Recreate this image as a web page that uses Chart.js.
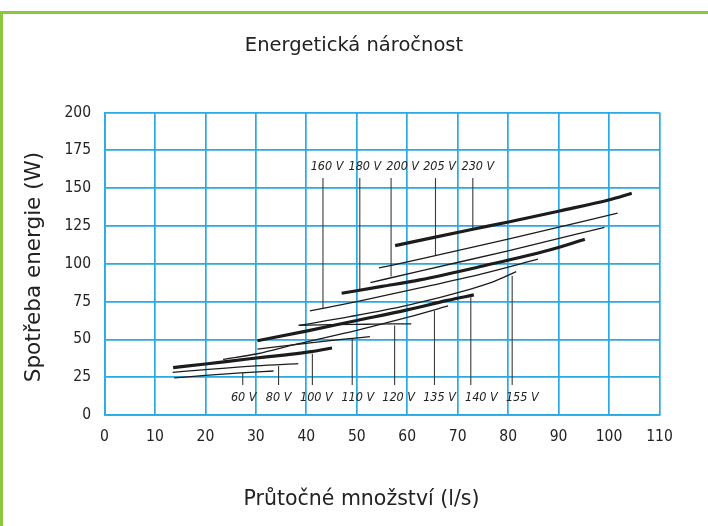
<!DOCTYPE html>
<html><head><meta charset="utf-8">
<script src="https://cdn.jsdelivr.net/npm/chart.js@4.4.1/dist/chart.umd.min.js"></script>
<style>
html,body{margin:0;padding:0;background:#fff;}
#wrap{position:relative;width:708px;height:526px;overflow:hidden;}
#frame{position:absolute;left:0;top:11px;width:720px;height:530px;border-left:3px solid #8dc63f;border-top:3px solid #8dc63f;box-sizing:border-box;pointer-events:none;}
canvas{position:absolute;left:0;top:0;}
</style></head>
<body><div id="wrap"><canvas id="c" width="708" height="526"></canvas><div id="frame"></div></div>
<script>
// Curves: [flow (l/s), power (W)]
const c60V  = [[13.8,24.5],[20,26.2],[27,27.8],[33.5,29.1]];
const c80V  = [[13.5,28.2],[20,30.0],[30,32.5],[38.4,34.0]];
const c100V = [[13.6,31.3],[20,33.7],[28.8,37.2],[36,39.8],[41,41.9],[45.1,44.3]];
const c110V = [[30.3,43.6],[40,47.4],[47,50.0],[52.6,51.8]];
const c120V = [[38.5,59.2],[45,59.7],[52,60.0],[57,60.2],[60.8,60.3]];
const c135V = [[23.5,36.8],[30.3,40.5],[38.2,47.0],[50,56.0],[60,64.5],[68.1,72.1]];
const c140V = [[30.3,49.1],[40,55.5],[50,62.5],[60,69.5],[68,75.8],[73.2,79.4]];
const c155V = [[38.5,59.2],[48.6,65.0],[60,72.5],[72.4,83.1],[77,88.0],[81.6,94.8]];
const c160V = [[40.7,68.8],[50,75.0],[62.5,84.0],[75,93.5],[85.9,103.0]];
const c180V = [[47,80.5],[55,85.0],[62.5,89.3],[75,98.5],[88.2,109.1],[95.2,116.2]];
const c200V = [[52.7,87.5],[62.5,95.2],[80,108.5],[99.1,124.1]];
const c205V = [[54.4,97.2],[62.5,103.0],[80,116.3],[101.7,133.4]];
const c230V = [[57.6,112.0],[73,122.8],[80.3,127.8],[90.2,134.9],[100.1,142.3],[104.5,146.6]];

const curveNames = ['60 V','80 V','100 V','110 V','120 V','135 V','140 V','155 V','160 V','180 V','200 V','205 V','230 V'];
const curves = [c60V,c80V,c100V,c110V,c120V,c135V,c140V,c155V,c160V,c180V,c200V,c205V,c230V];
const thickCurves = ['100 V','140 V','180 V','230 V'];

// Leader lines: labels below the curves (x, y on curve)
const bottomLabels = ['60 V','80 V','100 V','110 V','120 V','135 V','140 V','155 V'];
const bottomLeaderX = [27.4,34.5,41.2,49.1,57.5,65.4,72.6,80.8];
const bottomLeaderY = [28.0,32.4,40.5,50.3,59.1,69.0,77.8,92.1];
const bottomLabelX = [27.6,34.5,42.0,50.2,58.3,66.4,74.7,82.8];
// Leader lines: labels above the curves
const topLabels = ['160 V','180 V','200 V','205 V','230 V'];
const topLeaderX = [43.3,50.6,56.8,65.6,73.0];
const topLeaderY = [70.1,82.2,91.5,105.2,122.8];
const topLabelX = [44.1,51.6,59.1,66.4,74.0];
const bottomLeaderEnd = 19.8, bottomLabelLevel = 11.7;
const topLeaderEnd = 156.7, topLabelLevel = 164;

const xTicksMin = 0, xTicksMax = 110, xStep = 10;
const yTicksMin = 0, yTicksMax = 200, yStep = 25;

const chartTitle = 'Energetická náročnost';
const xTitle = 'Průtočné množství (l/s)';
const yTitle = 'Spotřeba energie (W)';

const GRID = '#2aa9e2';
const INK = '#1c1c1c';

const datasets = [];
curves.forEach((c,i)=>{
  const thick = thickCurves.includes(curveNames[i]);
  datasets.push({label:curveNames[i], data:c.map(p=>({x:p[0],y:p[1]})), borderColor:INK,
    borderWidth: thick?3.2:1.3, pointRadius:0, cubicInterpolationMode:'monotone', fill:false});
});
bottomLeaderX.forEach((lx,i)=>{
  datasets.push({label:'lead'+i, data:[{x:lx,y:bottomLeaderY[i]},{x:lx,y:bottomLeaderEnd}], borderColor:'#3a3a3a', borderWidth:1.1, pointRadius:0});
});
topLeaderX.forEach((lx,i)=>{
  datasets.push({label:'leadT'+i, data:[{x:lx,y:topLeaderY[i]},{x:lx,y:topLeaderEnd}], borderColor:'#3a3a3a', borderWidth:1.1, pointRadius:0});
});

const textPlugin = {
  id:'texts',
  afterDatasetsDraw(chart){
    const {ctx, scales:{x,y}} = chart;
    ctx.save();
    ctx.fillStyle = '#222';
    ctx.textAlign='center'; ctx.textBaseline='middle';
    ctx.font = 'italic 12.5px "Liberation Sans Narrow","DejaVu Sans Condensed",sans-serif';
    bottomLabels.forEach((t,i)=>ctx.fillText(t, x.getPixelForValue(bottomLabelX[i]), y.getPixelForValue(bottomLabelLevel)));
    topLabels.forEach((t,i)=>ctx.fillText(t, x.getPixelForValue(topLabelX[i]), y.getPixelForValue(topLabelLevel)));
    ctx.font = '19.5px "DejaVu Sans", sans-serif';
    ctx.fillText(chartTitle, 354, 46);
    ctx.font = '20.5px "DejaVu Sans", sans-serif';
    ctx.fillText(xTitle, 361.5, 500);
    ctx.font = '21.5px "DejaVu Sans", sans-serif';
    ctx.translate(34, 267);
    ctx.rotate(-Math.PI/2);
    ctx.fillText(yTitle, 0, 0);
    ctx.restore();
  }
};

const tickFont = {family:'"Liberation Sans Narrow","DejaVu Sans Condensed",sans-serif', size:15.5};

new Chart(document.getElementById('c'), {
  type:'line',
  data:{datasets},
  options:{
    responsive:false, animation:false, devicePixelRatio:1,
    layout:{padding:{left:0,right:48.5,top:112.5,bottom:0}},
    plugins:{legend:{display:false}, tooltip:{enabled:false}, title:{display:false}},
    scales:{
      x:{type:'linear', min:xTicksMin, max:xTicksMax,
        ticks:{stepSize:xStep, color:'#222', font:tickFont, padding:13},
        grid:{color:GRID, lineWidth:1.7, drawTicks:false},
        border:{color:GRID, width:1.7},
        afterFit(s){ s.height = 111; s.paddingLeft = 0; s.paddingRight = 0; }
      },
      y:{type:'linear', min:yTicksMin, max:yTicksMax,
        ticks:{stepSize:yStep, color:'#222', font:tickFont, padding:13.5},
        grid:{color:GRID, lineWidth:1.7, drawTicks:false},
        border:{color:GRID, width:1.7},
        afterFit(s){ s.width = 104.5; s.paddingTop = 0; s.paddingBottom = 0; }
      }
    }
  },
  plugins:[textPlugin]
});
</script>
</body></html>
